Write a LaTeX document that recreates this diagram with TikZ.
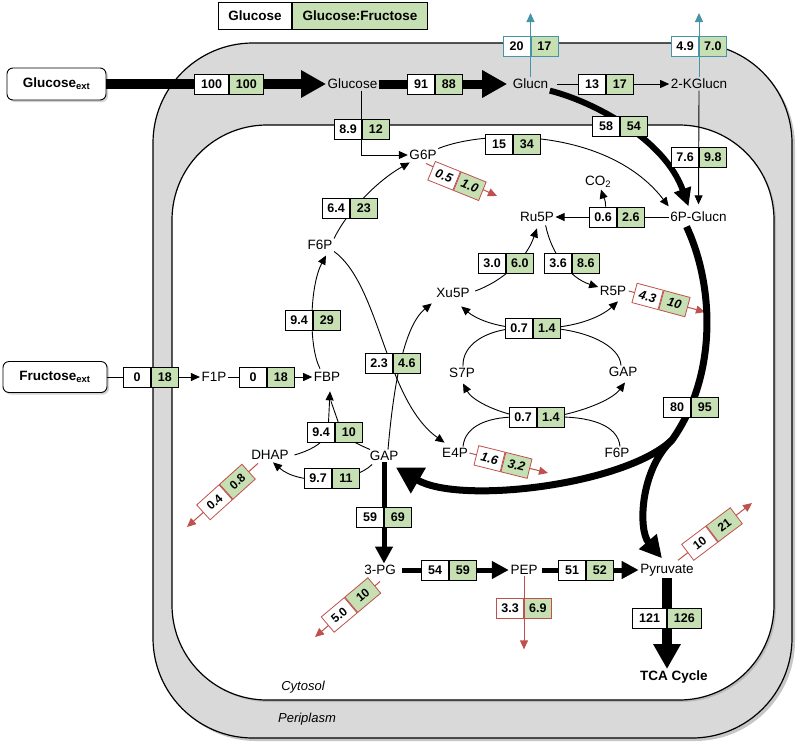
\documentclass[tikz,border=0pt]{standalone}
\usepackage{fontspec}
\setmainfont{Liberation Sans}
\usetikzlibrary{arrows.meta,calc,shadows}
\definecolor{flgreen}{RGB}{198,224,180}
\definecolor{flred}{RGB}{192,80,77}
\definecolor{flteal}{RGB}{70,148,165}
\definecolor{perigray}{RGB}{217,217,217}
\newcommand\flux[6]{%
  \node[cell,fill=white,rotate=#3,anchor=east,#6] (#1a) at #2 {#4};%
  \node[cell,fill=flgreen,rotate=#3,anchor=west,#6] (#1b) at #2 {#5};}
\begin{document}
\begin{tikzpicture}[x=1pt,y=-1pt,
  met/.style={font=\fontsize{13.5}{16}\selectfont, inner sep=1.5pt},
  cell/.style={draw=black, line width=0.8pt, minimum width=27pt, minimum height=20pt, inner sep=0pt, font=\bfseries\fontsize{12.5}{14}\selectfont},
  redit/.style={draw=flred, font=\bfseries\itshape\fontsize{12.5}{14}\selectfont},
  redrot/.style={draw=flred, minimum width=30pt, font=\bfseries\fontsize{12}{14}\selectfont},
  tline/.style={line width=0.9pt},
  tarr/.style={line width=0.9pt, -{Triangle[length=9pt,width=8pt]}},
  rarr/.style={line width=1pt, flred, -{Triangle[length=9pt,width=8pt]}},
  carr/.style={line width=1pt, flteal, -{Triangle[length=9pt,width=8pt]}},
  bigarr/.style={line width=10pt, -{Triangle[length=25pt,width=26pt]}},
  midarr/.style={line width=5pt, -{Triangle[length=17pt,width=17pt]}},
  ext/.style={draw, rounded corners=6pt, fill=white, line width=0.9pt, font=\bfseries\fontsize{13.5}{16}\selectfont, drop shadow={shadow xshift=2pt,shadow yshift=-2pt,opacity=0.35}},
  leg/.style={cell, minimum height=27pt, font=\bfseries\fontsize{13.5}{16}\selectfont}
]
\useasboundingbox (0,0) rectangle (800,745);
% compartments
\draw[line width=1.2pt, fill=perigray, rounded corners=100pt, drop shadow={shadow xshift=3pt,shadow yshift=-3pt,opacity=0.45}] (153,43) rectangle (792,738);
\draw[line width=1.2pt, fill=white, rounded corners=95pt, drop shadow={shadow xshift=2pt,shadow yshift=-2pt,opacity=0.35}] (172,125) rectangle (774,700);
% legend
\node[leg, fill=white, minimum width=73pt, anchor=east] (legA) at (292,15.5) {Glucose};
\node[leg, fill=flgreen, minimum width=135pt, anchor=west] (legB) at (292,15.5) {Glucose:Fructose};
% external substrates
\node[ext, minimum width=99pt, minimum height=32pt] (glcext) at (56.5,84) {Glucose\textsubscript{ext}};
\node[ext, minimum width=104pt, minimum height=31pt] (fruext) at (55,377) {Fructose\textsubscript{ext}};
% metabolites
\node[met] (glc) at (352.5,84) {Glucose};
\node[met] (glucn) at (530.5,84) {Glucn};
\node[met] (kglucn) at (699,84) {2-KGlucn};
\node[met] (g6p) at (423,155) {G6P};
\node[met] (pglucn) at (698.5,217) {6P-Glucn};
\node[met] (co2) at (598,182) {CO\textsubscript{2}};
\node[met] (ru5p) at (537,217) {Ru5P};
\node[met] (xu5p) at (453,293) {Xu5P};
\node[met] (r5p) at (613,291) {R5P};
\node[met] (s7p) at (462,373) {S7P};
\node[met] (gap2) at (623,372) {GAP};
\node[met] (e4p) at (455,453) {E4P};
\node[met] (f6p2) at (617,453) {F6P};
\node[met] (f6p) at (320,245) {F6P};
\node[met] (f1p) at (214,377) {F1P};
\node[met] (fbp) at (327,377) {FBP};
\node[met] (dhap) at (270,455) {DHAP};
\node[met] (gap) at (384,456) {GAP};
\node[met] (pg3) at (380,570) {3-PG};
\node[met] (pep) at (524,570) {PEP};
\node[met] (pyr) at (667,570) {Pyruvate};
\node[met, font=\bfseries\fontsize{13.5}{16}\selectfont] (tca) at (674,677) {TCA Cycle};
\node[met, font=\itshape\fontsize{13}{15}\selectfont] (cyt) at (303,687) {Cytosol};
\node[met, font=\itshape\fontsize{13}{15}\selectfont] (peri) at (307,719) {Periplasm};
% free ends and box centres
\coordinate (tglucn) at (530.5,13);
\coordinate (tkg) at (699,13);
\coordinate (tg6p) at (497,196);
\coordinate (tr5p) at (705,312);
\coordinate (te4p) at (548,473);
\coordinate (tdhap) at (187,527);
\coordinate (t3pg) at (315,637);
\coordinate (tpyr) at (752,503);
\coordinate (ed) at (672,440);
\coordinate (c16) at (533,328);
\coordinate (c21) at (537,417);
% connectors
\draw[bigarr] (glcext.east) -- (glc.west);
\draw[line width=9pt, -{Triangle[length=25pt,width=26pt]}, shorten >=4pt] (glc.east) -- (glucn.west);
\draw[tarr, shorten <=7pt] (glucn.east) -- (kglucn.west);
\draw[carr] (glucn.north) -- (tglucn);
\draw[carr] (kglucn.north) -- (tkg);
\draw[tarr, shorten >=6pt] (kglucn.south) -- (pglucn.north);
\draw[line width=6pt, -{Triangle[length=18pt,width=17pt]}] (glucn.south east) .. controls (595,102) and (665,140) .. ($(pglucn.north)+(-10,-4)$);
\draw[tarr] ($(glc.south)+(9,0)$) |- (g6p.west);
\draw[tarr] (g6p.north east) .. controls (490,128) and (610,130) .. ($(pglucn.north west)+(0,-4)$);
\draw[rarr] ($(g6p.south)+(3,2)$) -- (tg6p);
\draw[tarr] (f6p.north east) .. controls (345,215) and (375,182) .. ($(g6p.south west)+(2,1)$);
\draw[tarr] ($(fbp.north)+(-7,-2)$) .. controls (308,345) and (310,285) .. ($(f6p.south)+(6,4)$);
\draw[tarr] (fruext.east) -- (f1p.west);
\draw[tarr] (f1p.east) -- (fbp.west);
\draw[tarr] ($(dhap.east)+(4,0)$) .. controls (308,451) and (322,445) .. (328,433) -- ($(fbp.south)+(3,8)$);
\draw[tline] ($(gap.north west)+(2,0)$) .. controls (362,446) and (348,440) .. (342,433) -- ($(fbp.south)+(4,18)$);
\draw[tarr] ($(gap.south west)+(4,2)$) .. controls (355,482) and (300,486) .. ($(dhap.south)+(3,1)$);
\draw[rarr] ($(dhap.south)+(-12,2)$) -- (tdhap);
\draw[tarr] ($(gap.north)+(4,0)$) .. controls (394,380) and (405,325) .. ($(xu5p.south west)+(-3,4)$);
\draw[tarr] (f6p.south east) .. controls (380,285) and (385,400) .. ($(e4p.north west)+(4,-4)$);
\draw[tarr] ($(xu5p.east)+(4,-2)$) .. controls (500,282) and (525,262) .. ($(ru5p.south)+(0,5)$);
\draw[tarr] ($(ru5p.south east)+(-10,2)$) .. controls (552,255) and (570,278) .. ($(r5p.west)+(0,-4)$);
\draw[tarr] (pglucn.west) -- (ru5p.east);
\draw[rarr] ($(r5p.east)+(1,0)$) -- (tr5p);
% transketolase / transaldolase
\draw[tline] ($(s7p.north)+(1,0)$) .. controls (462,345) and (485,330) .. ($(c16)+(-15,0)$);
\draw[tarr] ($(c16)+(-15,0)$) .. controls (492,326) and (475,318) .. ($(xu5p.south east)+(-10,7)$);
\draw[tline] ($(gap2.north)+(-2,0)$) .. controls (620,345) and (585,330) .. ($(c16)+(15,0)$);
\draw[tarr] ($(c16)+(15,0)$) .. controls (580,326) and (602,316) .. ($(r5p.south)+(5,4)$);
\draw[tline] ($(e4p.north)+(8,0)$) .. controls (465,425) and (490,416) .. ($(c21)+(-15,0)$);
\draw[tarr] ($(c21)+(-15,0)$) .. controls (495,412) and (472,400) .. ($(s7p.south)+(1,4)$);
\draw[tline] ($(f6p2.north)+(3,0)$) .. controls (618,425) and (590,416) .. ($(c21)+(15,0)$);
\draw[tarr] ($(c21)+(15,0)$) .. controls (582,412) and (612,400) .. ($(gap2.south)+(2,4)$);
\draw[rarr] (e4p.east) -- (te4p);
% ED pathway
\draw[line width=7pt, line join=round, -{Triangle[length=26pt,width=28pt]}] ($(pglucn.south)+(-12,3)$) .. controls (714,285) and (718,375) .. (ed) .. controls (625,485) and (460,505) .. ($(gap.south east)+(-4,5)$);
\draw[line width=7pt, -{Triangle[length=22pt,width=22pt]}] (ed) .. controls (640,470) and (638,530) .. ($(pyr.north)+(-5,-4)$);
% lower glycolysis
\draw[midarr] (gap.south) -- (gap.south |- pg3.north);
\draw[midarr, shorten <=5pt] (pg3.east) -- (pep.west);
\draw[midarr, shorten <=3pt] (pep.east) -- (pyr.west);
\draw[rarr] (pep.south) -- ($(pep.south)+(0,73)$);
\draw[rarr] ($(pyr.north)+(11,-2)$) -- (tpyr);
\draw[rarr] ($(pg3.south)+(0,5)$) -- (t3pg);
\draw[bigarr] (pyr.south) -- (pyr.south |- tca.north);
% flux boxes
\flux{fa}{(229,84)}{0}{100}{100}{minimum width=34pt}
\flux{fb}{(435,84)}{0}{91}{88}{}
\flux{fc}{(530.5,46)}{0}{20}{17}{draw=flteal}
\flux{fd}{(699,46)}{0}{4.9}{7.0}{draw=flteal}
\flux{fe}{(606,84)}{0}{13}{17}{}
\flux{ff}{(620,126)}{0}{58}{54}{}
\flux{fg}{(362,129)}{0}{8.9}{12}{}
\flux{fh}{(513,144)}{0}{15}{34}{}
\flux{fi}{(699,157)}{0}{7.6}{9.8}{}
\flux{fj}{(350,208)}{0}{6.4}{23}{}
\flux{fk}{(457,181)}{-22}{0.5}{1.0}{redit}
\flux{fl}{(617,217)}{0}{0.6}{2.6}{}
\flux{fm}{(506,263)}{0}{3.0}{6.0}{}
\flux{fn}{(572,263)}{0}{3.6}{8.6}{}
\flux{fo}{(661,300)}{-15}{4.3}{10}{redit}
\flux{fp}{(533,328)}{0}{0.7}{1.4}{}
\flux{fq}{(313,320)}{0}{9.4}{29}{}
\flux{fr}{(151,377)}{0}{0}{18}{}
\flux{fs}{(267,377)}{0}{0}{18}{}
\flux{ft}{(393,363)}{0}{2.3}{4.6}{}
\flux{fu}{(537,417)}{0}{0.7}{1.4}{}
\flux{fv}{(691,407)}{0}{80}{95}{}
\flux{fw}{(335,432)}{0}{9.4}{10}{}
\flux{fx}{(332,478)}{0}{9.7}{11}{}
\flux{fy}{(503,462)}{-14}{1.6}{3.2}{redit}
\flux{fz}{(226,492)}{42}{0.4}{0.8}{redrot}
\flux{fA}{(384,517)}{0}{59}{69}{}
\flux{fB}{(449,570)}{0}{54}{59}{}
\flux{fC}{(586,570)}{0}{51}{52}{}
\flux{fD}{(524,608)}{0}{3.3}{6.9}{draw=flred}
\flux{fE}{(712,534)}{37}{10}{21}{redrot}
\flux{fF}{(351,605)}{40}{5.0}{10}{redrot}
\flux{fG}{(667,618)}{0}{121}{126}{minimum width=34pt}
% CO2 release
\draw[tarr] ($(fla.north)+(2.5,0)$) .. controls (606,200) and (603,196) .. ($(co2.south)+(3,0)$);
\end{tikzpicture}
\end{document}
